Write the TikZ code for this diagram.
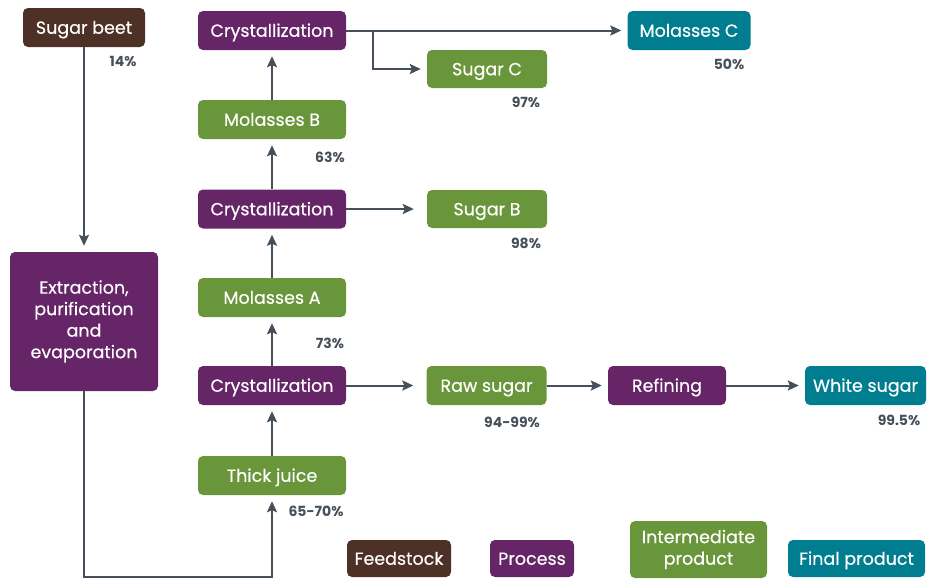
\documentclass[tikz,border=0pt]{standalone}
\usepackage{fontspec}
\setmainfont{Poppins}
\newfontfamily\boxfont{Poppins}[FakeBold=0.35]
\usetikzlibrary{arrows.meta}
\definecolor{cbrown}{HTML}{4E3126}
\definecolor{cpurple}{HTML}{662566}
\definecolor{cgreen}{HTML}{6A963B}
\definecolor{cteal}{HTML}{007E8F}
\definecolor{cline}{HTML}{46505A}
\begin{document}
\begin{tikzpicture}[x=1pt,y=-1pt,
  box/.style={rounded corners=5pt, text=white, font=\boxfont\fontsize{17.5}{21.5}\selectfont, inner sep=0pt, align=center},
  one/.style={text height=12.5pt, text depth=0pt},
  feed/.style={box, fill=cbrown},
  proc/.style={box, fill=cpurple},
  inter/.style={box, fill=cgreen},
  final/.style={box, fill=cteal},
  pct/.style={text=cline, font=\bfseries\fontsize{14}{16}\selectfont, inner sep=0pt},
  arr/.style={draw=cline, line width=2pt, -{Stealth[length=11pt,width=10pt,inset=2pt]}, shorten >=6pt}
]
\useasboundingbox (0,0) rectangle (938,579);

% main boxes
\node[feed, one, minimum width=122pt, minimum height=39pt] (beet) at (84,27.5) {Sugar beet};
\node[proc, minimum width=148pt, minimum height=139pt] (ext) at (84,321.5) {Extraction,\\purification\\and\\evaporation};
\node[proc, one, minimum width=148pt, minimum height=39pt] (cr3) at (272,30.5) {Crystallization};
\node[final, one, minimum width=123pt, minimum height=39pt] (molc) at (689,30.5) {Molasses C};
\node[inter, one, minimum width=120pt, minimum height=38pt] (sugc) at (487,69) {Sugar C};
\node[inter, one, minimum width=148pt, minimum height=39pt] (molb) at (272,119.5) {Molasses B};
\node[proc, one, minimum width=148pt, minimum height=39pt] (cr2) at (272,209) {Crystallization};
\node[inter, one, minimum width=120pt, minimum height=38pt] (sugb) at (487,209) {Sugar B};
\node[inter, one, minimum width=148pt, minimum height=39pt] (mola) at (272,297.5) {Molasses A};
\node[proc, one, minimum width=148pt, minimum height=39pt] (cr1) at (272,385.5) {Crystallization};
\node[inter, one, minimum width=120pt, minimum height=39pt] (raw) at (486.5,385.5) {Raw sugar};
\node[proc, one, minimum width=118pt, minimum height=39pt] (ref) at (667,385.5) {Refining};
\node[final, one, minimum width=121pt, minimum height=39pt] (white) at (865.5,385.5) {White sugar};
\node[inter, one, minimum width=148pt, minimum height=39pt] (juice) at (272,475.5) {Thick juice};

% legend
\node[feed, one, minimum width=104pt, minimum height=37pt] (leg1) at (399,558.5) {Feedstock};
\node[proc, one, minimum width=84pt, minimum height=37pt] (leg2) at (532,558.5) {Process};
\node[inter, minimum width=137pt, minimum height=57pt] (leg3) at (698.5,549.5) {Intermediate\\product};
\node[final, one, minimum width=137pt, minimum height=37pt] (leg4) at (856.5,558.5) {Final product};

% percentages
\node[pct] (p1) at (123,61) {14\%};
\node[pct] (p2) at (330,157) {63\%};
\node[pct] (p3) at (526,102) {97\%};
\node[pct] (p4) at (729,64) {50\%};
\node[pct] (p5) at (526,243) {98\%};
\node[pct] (p6) at (330,343) {73\%};
\node[pct] (p7) at (512,422) {94-99\%};
\node[pct] (p8) at (899,420) {99.5\%};
\node[pct] (p9) at (316,511) {65-70\%};

% connectors
\coordinate (bot) at (0,577);
\coordinate (br) at (373,30.5);
\draw[arr] (beet.south) -- (beet.south |- ext.north);
\draw[arr] (ext.south) -- (ext.south |- bot) -| (juice.south);
\draw[arr] (juice) -- (cr1);
\draw[arr] (cr1) -- (mola);
\draw[arr] (mola) -- (cr2);
\draw[arr] (cr2) -- (molb);
\draw[arr] (molb) -- (cr3);
\draw[arr] (cr3.east) -- (molc.west);
\draw[arr] (br) |- (sugc.west);
\draw[arr, shorten >=13pt] (cr2.east) -- (sugb.west);
\draw[arr, shorten >=13pt] (cr1.east) -- (raw.west);
\draw[arr] (raw.east) -- (ref.west);
\draw[arr] (ref.east) -- (white.west);
\end{tikzpicture}
\end{document}
